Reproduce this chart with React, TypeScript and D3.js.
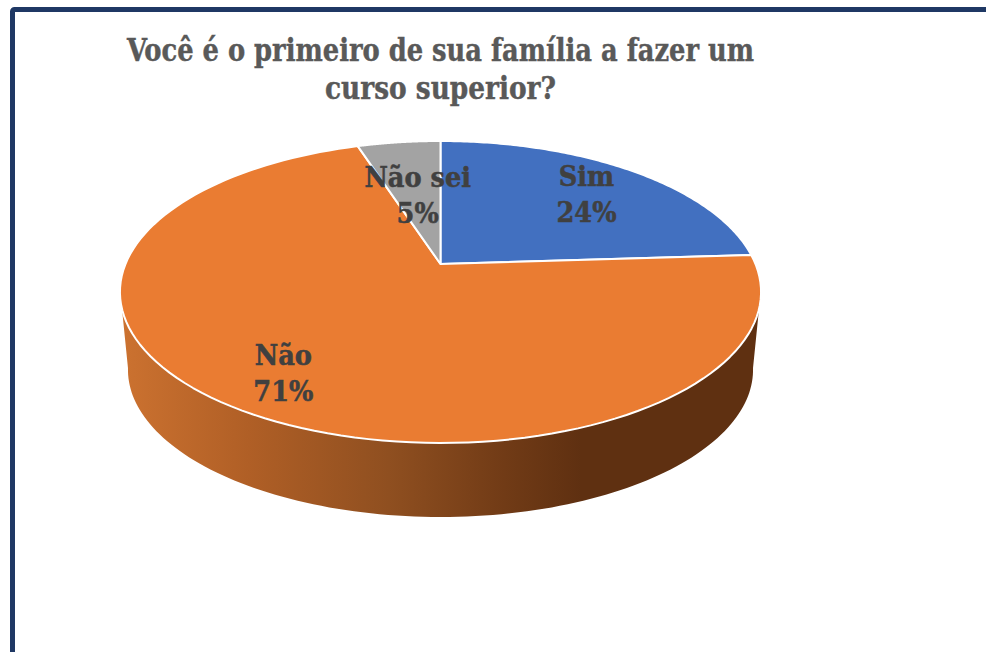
import React from "react";
import * as d3 from "d3";

const categories = ["Sim", "Não", "Não sei"];
const shares = [24, 71, 5];
const percentLabels = ["24%", "71%", "5%"];
const sliceColors = ["#4270c0", "#ea7c32", "#a3a3a3"];
const titleLines = ["Você é o primeiro de sua família a fazer um", "curso superior?"];

const W = 986, H = 652;
const CX = 440.5, CY = 264, A = 315, B = 145.8, K = 0.1854;
const DEPTH_Y = 78.5, DEPTH_SCALE = 0.975;

// perspective projection of a disc; t is the clockwise angle from north, r the radius 0..1
const project = (t: number, r = 1, dy = 0, s = 1): [number, number] => {
  const u = r * Math.sin(t), v = -r * Math.cos(t);
  const w = 1 - K * v;
  return [CX + (s * A * u) / w, CY + dy + (s * B * v) / w];
};
const line = d3.line<[number, number]>().x(d => d[0]).y(d => d[1]);
const samples = (a: number, b: number, n = 120) => d3.range(n + 1).map(i => a + ((b - a) * i) / n);
const rad = (d: number) => (d * Math.PI) / 180;

const arcs = d3.pie<number>().sort(null)(shares);
const labelRadius = [0.74, 0.79, 0.53];
const labelNudge = [1, 2, 1];

export default function App() {
  const sidePts = [
    ...samples(rad(107), rad(253)).map(t => project(t)),
    ...samples(rad(260), rad(100)).map(t => project(t, 1, DEPTH_Y, DEPTH_SCALE)),
  ];
  return (
    <svg width={W} height={H} viewBox={`0 0 ${W} ${H}`}
      style={{ position: "absolute", left: 0, top: 0, display: "block", background: "#fff" }}>
      <defs>
        <linearGradient id="side" gradientUnits="userSpaceOnUse" x1={120} x2={761} y1={0} y2={0}>
          <stop offset="0" stopColor="#cc7230" />
          <stop offset="0.2" stopColor="#b05f26" />
          <stop offset="0.42" stopColor="#8f4f20" />
          <stop offset="0.6" stopColor="#713b16" />
          <stop offset="0.72" stopColor="#5f3011" />
          <stop offset="1" stopColor="#5f3011" />
        </linearGradient>
      </defs>
      <rect x={12.5} y={9.5} width={1000} height={700} rx={2} fill="none" stroke="#1f3864" strokeWidth={5} />
      <path d={line(sidePts) + "Z"} fill="url(#side)" />
      {arcs.map((a, i) => {
        const pts = samples(a.startAngle, a.endAngle).map(t => project(t));
        return (
          <path key={categories[i]} d={line([[CX, CY], ...pts])! + "Z"} fill={sliceColors[i]}
            stroke="#fff" strokeWidth={2} strokeLinejoin="round" />
        );
      })}
      <g fontFamily="'DejaVu Serif Condensed', 'DejaVu Serif', serif" fontWeight={700} textAnchor="middle">
        {titleLines.map((t, i) => (
          <text key={t} x={440.5} y={61 + i * 38} fontSize={31} fill="#595959" stroke="#595959" strokeWidth={0.4}
            textLength={i === 0 ? 627 : 231} lengthAdjust="spacingAndGlyphs">{t}</text>
        ))}
        {arcs.map((a, i) => {
          const [x, y] = project((a.startAngle + a.endAngle) / 2, labelRadius[i]);
          return (
            <g key={categories[i]} fontSize={28.5} fill="#404040" stroke="#404040" strokeWidth={0.5}>
              <text x={x + labelNudge[i]} y={y - 7}>{categories[i]}</text>
              <text x={x + labelNudge[i]} y={y + 29}>{percentLabels[i]}</text>
            </g>
          );
        })}
      </g>
    </svg>
  );
}
